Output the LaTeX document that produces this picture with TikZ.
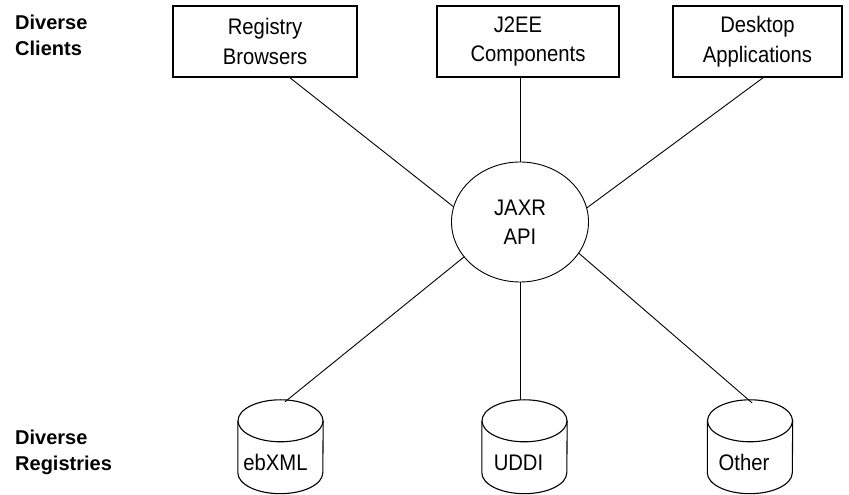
\documentclass[tikz,border=0pt]{standalone}
\usepackage{fontspec}
\setmainfont{Liberation Sans}
\newfontfamily\narrowsans{Liberation Sans}[FakeStretch=0.9]
\usetikzlibrary{shapes.geometric}
\begin{document}
\begin{tikzpicture}[x=1pt,y=1pt,
  client/.style={draw, line width=1.6pt, minimum height=71pt, inner sep=0pt,
    align=center, font=\narrowsans\fontsize{22.5}{29.5}\selectfont},
  hub/.style={draw, ellipse, line width=0.9pt, minimum width=137pt,
    minimum height=120pt, inner sep=0pt, align=center,
    font=\narrowsans\fontsize{22.5}{29}\selectfont},
  link/.style={line width=0.9pt},
  cylbody/.style={minimum width=85pt, minimum height=93.5pt, inner sep=0pt},
  cylline/.style={line width=1.1pt},
  dblabel/.style={font=\narrowsans\fontsize{22.5}{24}\selectfont, anchor=base, inner sep=0pt},
  side/.style={font=\bfseries\fontsize{20}{25.5}\selectfont, align=left,
    anchor=north west, inner sep=0pt}]
\useasboundingbox (0,0) rectangle (849,495);

% client applications
\node[client, minimum width=184pt] (reg)  at (265,453.5)   {Registry\\Browsers};
\node[client, minimum width=182pt] (j2ee) at (528,453.5)   {J2EE\hspace*{20pt}\\Components};
\node[client, minimum width=169pt] (desk) at (757.5,453.5) {Desktop\\Applications};

% the JAXR API in the middle
\node[hub] (api) at (520,273) {JAXR\\API};

% registries drawn as cylinders
\node[cylbody] (eb) at (280.5,48.25) {};
\node[cylbody] (ud) at (524.5,48.25) {};
\node[cylbody] (ot) at (750,48.25) {};
\foreach \c in {eb,ud,ot} {
  \draw[cylline] ([yshift=-21pt]\c.north) ellipse [x radius=42.5pt, y radius=21pt];
  \draw[cylline] ([yshift=-21pt]\c.north west) -- ([yshift=21pt]\c.south west)
    arc[start angle=180, end angle=360, x radius=42.5pt, y radius=21pt]
    -- ([yshift=-21pt]\c.north east);
}
\node[dblabel] (ebl) at (275.5,24) {ebXML};
\node[dblabel] (udl) at (518.5,24) {UDDI};
\node[dblabel] (otl) at (744,24)   {Other};

% connectors
\draw[link] ([xshift=25pt]reg.south) -- (api.167);
\draw[link] (api.north) -- (api.north |- j2ee.south);
\draw[link] ([xshift=5.5pt]desk.south) -- (api.12);
\draw[link] (api.212) -- ([xshift=4.5pt,yshift=-2pt]eb.north);
\draw[link] (api.south) -- (api.south |- ud.north);
\draw[link] (api.-28) -- ([xshift=2pt,yshift=-3pt]ot.north);

% row captions
\node[side] (clients)    at (15,480) {Diverse\\Clients};
\node[side] (registries) at (15,65)  {Diverse\\Registries};
\end{tikzpicture}
\end{document}
